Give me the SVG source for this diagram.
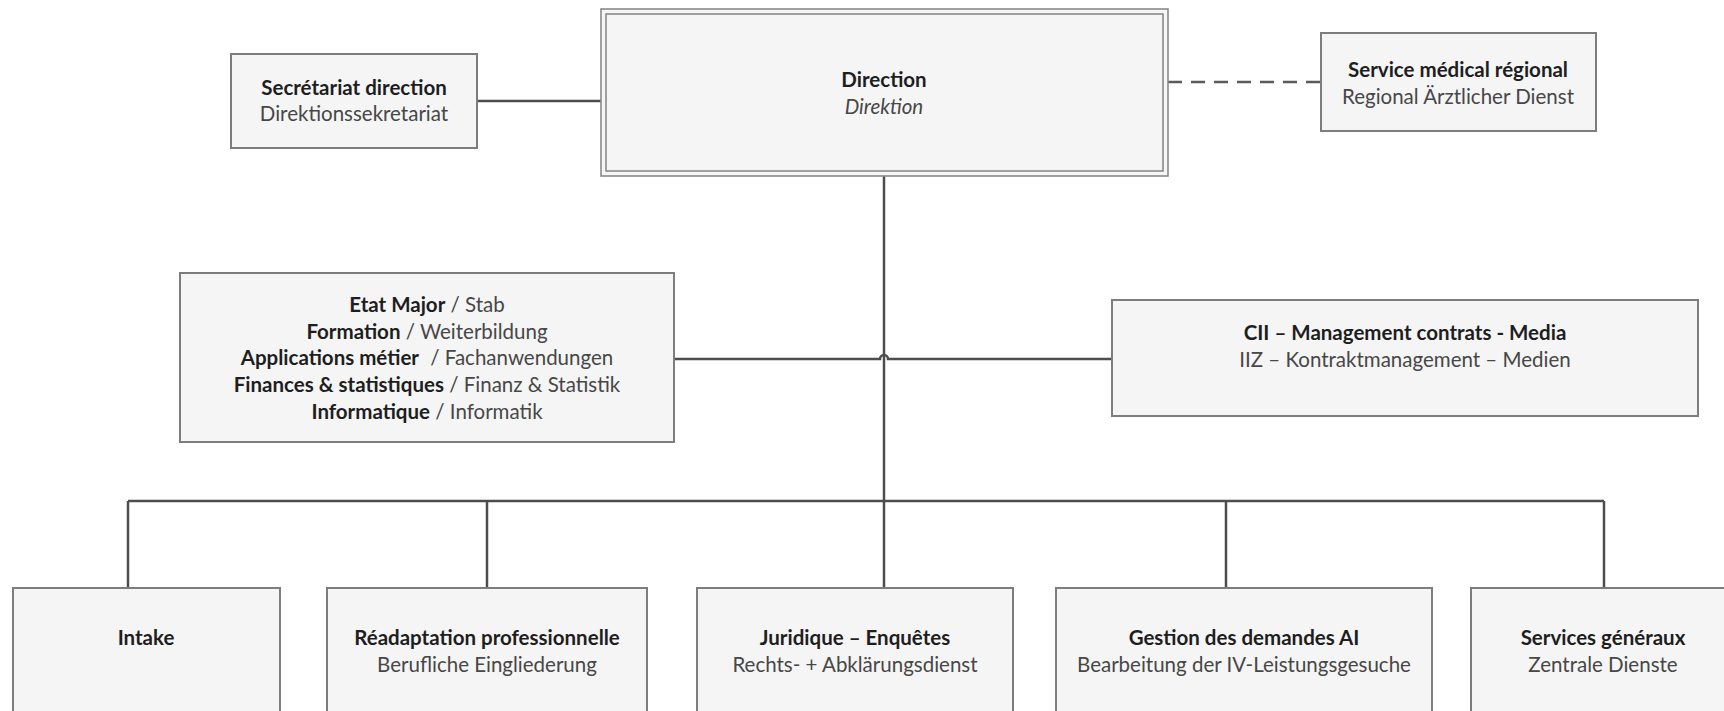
<svg xmlns="http://www.w3.org/2000/svg" width="1724" height="711" viewBox="0 0 1724 711">
<style>
.box{fill:#f5f5f5;stroke:#7d7d7d;stroke-width:2}
.dbl{fill:none;stroke:#8a8a8a;stroke-width:1.6}
.ln{fill:none;stroke:#4d4d4d;stroke-width:2.5}
.dash{fill:none;stroke:#5a5a5a;stroke-width:2.5;stroke-dasharray:14 9}
text{font-family:Lato,"Open Sans","Liberation Sans",sans-serif;font-size:20.5px;text-anchor:middle}
.b{font-weight:bold;fill:#1e1e1e}
.r{fill:#474747}
.i{fill:#474747;font-style:italic}
</style>
<rect width="1724" height="711" fill="#ffffff"/>
<g id="connectors">
<line class="ln" x1="477" y1="101" x2="601" y2="101"/>
<line class="dash" x1="1168" y1="82" x2="1321" y2="82"/>
<line class="ln" x1="884" y1="176" x2="884" y2="588"/>
<path class="ln" d="M674 359 H880 a4 4 0 0 1 8 0 H1112"/>
<line class="ln" x1="128" y1="501" x2="1604" y2="501"/>
<line class="ln" x1="128" y1="501" x2="128" y2="588"/>
<line class="ln" x1="487" y1="501" x2="487" y2="588"/>
<line class="ln" x1="1226" y1="501" x2="1226" y2="588"/>
<line class="ln" x1="1604" y1="501" x2="1604" y2="588"/>
</g>
<g id="secretariat">
<rect class="box" x="231" y="54" width="246" height="94"/>
<text x="354" y="95" class="b">Secrétariat direction</text>
<text x="354" y="121" class="r">Direktionssekretariat</text>
</g>
<g id="direction">
<rect class="box" x="601" y="9" width="567" height="167" style="stroke:#8a8a8a;stroke-width:1.6"/>
<rect class="dbl" x="606" y="14" width="557" height="157"/>
<text x="884" y="87" class="b">Direction</text>
<text x="884" y="114" class="i">Direktion</text>
</g>
<g id="service-medical">
<rect class="box" x="1321" y="33" width="275" height="98"/>
<text x="1458" y="77" class="b">Service médical régional</text>
<text x="1458" y="104" class="r">Regional Ärztlicher Dienst</text>
</g>
<g id="etat-major">
<rect class="box" x="180" y="273" width="494" height="169"/>
<text x="427" y="312"><tspan class="b">Etat Major</tspan><tspan class="r"> / Stab</tspan></text>
<text x="427" y="339"><tspan class="b">Formation</tspan><tspan class="r"> / Weiterbildung</tspan></text>
<text x="427" y="365"><tspan class="b">Applications métier</tspan><tspan class="r" dx="6"> / Fachanwendungen</tspan></text>
<text x="427" y="392"><tspan class="b">Finances &amp; statistiques</tspan><tspan class="r"> / Finanz &amp; Statistik</tspan></text>
<text x="427" y="419"><tspan class="b">Informatique</tspan><tspan class="r"> / Informatik</tspan></text>
</g>
<g id="cii">
<rect class="box" x="1112" y="300" width="586" height="116"/>
<text x="1405" y="340" class="b">CII – Management contrats - Media</text>
<text x="1405" y="367" class="r">IIZ – Kontraktmanagement – Medien</text>
</g>
<g id="intake">
<rect class="box" x="13" y="588" width="267" height="140"/>
<text x="146" y="645" class="b">Intake</text>
</g>
<g id="readaptation">
<rect class="box" x="327" y="588" width="320" height="140"/>
<text x="487" y="645" class="b">Réadaptation professionnelle</text>
<text x="487" y="672" class="r">Berufliche Eingliederung</text>
</g>
<g id="juridique">
<rect class="box" x="697" y="588" width="316" height="140"/>
<text x="855" y="645" class="b">Juridique – Enquêtes</text>
<text x="855" y="672" class="r">Rechts- + Abklärungsdienst</text>
</g>
<g id="gestion">
<rect class="box" x="1056" y="588" width="376" height="140"/>
<text x="1244" y="645" class="b">Gestion des demandes AI</text>
<text x="1244" y="672" class="r">Bearbeitung der IV-Leistungsgesuche</text>
</g>
<g id="services-generaux">
<rect class="box" x="1471" y="588" width="264" height="140"/>
<text x="1603" y="645" class="b">Services généraux</text>
<text x="1603" y="672" class="r">Zentrale Dienste</text>
</g>
</svg>
